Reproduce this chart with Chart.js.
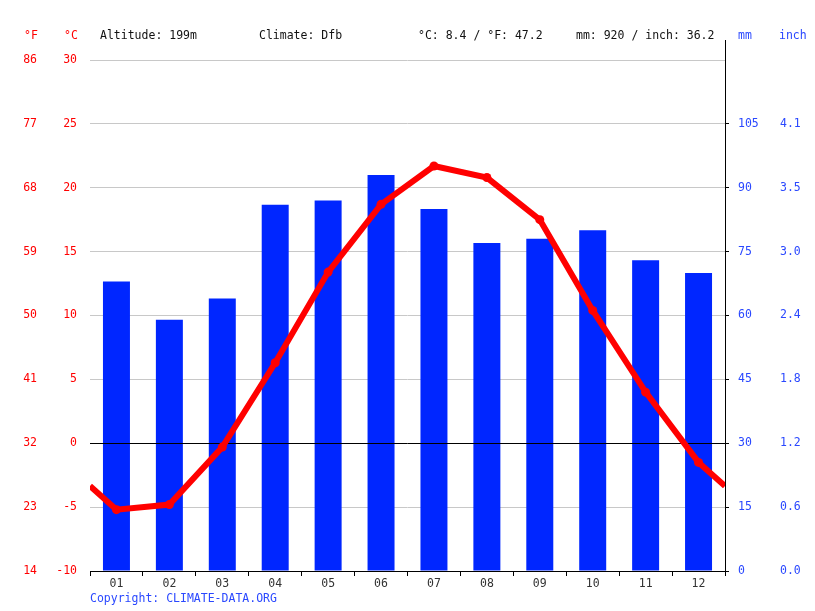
<!DOCTYPE html>
<html>
<head>
<meta charset="utf-8">
<script src="https://cdn.jsdelivr.net/npm/chart.js@4"></script>
<style>
  body { margin: 0; background: #fff; }
  canvas { display: block; }
</style>
</head>
<body>
<canvas id="climateChart" width="815" height="611"></canvas>
<script>
// data
const months = ['01', '02', '03', '04', '05', '06', '07', '08', '09', '10', '11', '12'];
const precipMm = [68, 59, 64, 86, 87, 93, 85, 77, 78, 80, 73, 70];
const tempC = [-5.2, -4.8, -0.3, 6.3, 13.4, 18.7, 21.7, 20.8, 17.5, 10.4, 4.0, -1.5];

// tick labels
const ticksC = [-10, -5, 0, 5, 10, 15, 20, 25, 30];
const ticksF = [14, 23, 32, 41, 50, 59, 68, 77, 86];
const ticksMm = [0, 15, 30, 45, 60, 75, 90, 105];
const ticksInch = ['0.0', '0.6', '1.2', '1.8', '2.4', '3.0', '3.5', '4.1'];

const FONT = 'DejaVu Sans Mono';
const RED = '#ff0000';
const BLUE = '#0026ff';
const LABEL_BLUE = '#2a48ff';

// line runs out to both edges, half way to the wrapped neighbour month
const edgeTemp = (tempC[0] + tempC[tempC.length - 1]) / 2;
const linePoints = [{ x: 0.5, y: edgeTemp }]
  .concat(tempC.map((t, i) => ({ x: i + 1, y: t })))
  .concat([{ x: months.length + 0.5, y: edgeTemp }]);
const pointSizes = linePoints.map((p, i) => (i === 0 || i === linePoints.length - 1) ? 0 : 4.5);

const setTicks = list => scale => { scale.ticks = list.map(v => ({ value: v })); };

// header, copyright, zero line and the tall right border
const extras = {
  id: 'extras',
  afterDatasetDraw(chart, args) {
    if (args.index !== 0) return;
    const { ctx, chartArea } = chart;
    const y0 = Math.round(chart.scales.y.getPixelForValue(0)) + 0.5;
    ctx.save();
    ctx.strokeStyle = '#000';
    ctx.lineWidth = 1;
    ctx.beginPath();
    ctx.moveTo(chartArea.left, y0);
    ctx.lineTo(chartArea.right, y0);
    ctx.stroke();
    ctx.restore();
  },
  afterDraw(chart) {
    const { ctx, chartArea } = chart;
    ctx.save();
    ctx.strokeStyle = '#000';
    ctx.lineWidth = 1;
    ctx.beginPath();
    ctx.moveTo(chartArea.right + 0.5, chartArea.top - 20);
    ctx.lineTo(chartArea.right + 0.5, chartArea.top);
    ctx.stroke();

    ctx.font = '11.5px "' + FONT + '"';
    ctx.textBaseline = 'middle';
    ctx.textAlign = 'left';
    const head = [
      ['°F', 24, RED], ['°C', 64, RED],
      ['Altitude: 199m', 100, '#111'],
      ['Climate: Dfb', 259, '#111'],
      ['°C: 8.4 / °F: 47.2', 418, '#111'],
      ['mm: 920 / inch: 36.2', 576, '#111'],
      ['mm', 738, LABEL_BLUE], ['inch', 779, LABEL_BLUE]
    ];
    head.forEach(([t, x, c]) => { ctx.fillStyle = c; ctx.fillText(t, x, 36); });
    ctx.fillStyle = LABEL_BLUE;
    ctx.fillText('Copyright: CLIMATE-DATA.ORG', 90, 599);
    ctx.restore();
  }
};

const tickFont = { family: FONT, size: 11.5 };

new Chart(document.getElementById('climateChart'), {
  type: 'bar',
  data: {
    labels: months,
    datasets: [
      {
        type: 'bar',
        data: precipMm,
        backgroundColor: BLUE,
        xAxisID: 'x',
        yAxisID: 'mm',
        grouped: false,
        categoryPercentage: 1,
        barPercentage: 0.51,
        order: 1
      },
      {
        type: 'line',
        data: linePoints,
        borderColor: RED,
        backgroundColor: RED,
        borderWidth: 6,
        pointRadius: pointSizes,
        pointBorderWidth: 0,
        tension: 0,
        xAxisID: 'x2',
        yAxisID: 'y',
        order: 0
      }
    ]
  },
  options: {
    responsive: false,
    animation: false,
    devicePixelRatio: 1,
    layout: { padding: { top: 60, left: 0, right: 0, bottom: 0 } },
    plugins: { legend: { display: false }, tooltip: { enabled: false } },
    scales: {
      x: {
        type: 'category',
        offset: true,
        grid: { offset: true, drawOnChartArea: false, color: '#000', tickLength: 5 },
        border: { color: '#000' },
        ticks: { color: '#333', font: tickFont, padding: 1, maxRotation: 0 },
        afterFit: s => { s.height = 40; }
      },
      x2: {
        type: 'linear',
        display: false,
        offset: false,
        min: 0.5,
        max: months.length + 0.5
      },
      y: {
        position: 'left',
        weight: 0,
        min: -10,
        max: 30,
        afterBuildTicks: setTicks(ticksC),
        grid: { color: '#c8c8c8', drawTicks: false },
        border: { display: false },
        ticks: { color: RED, font: tickFont, padding: 13 },
        afterFit: s => { s.width = 45; }
      },
      f: {
        position: 'left',
        weight: 1,
        min: 14,
        max: 86,
        afterBuildTicks: setTicks(ticksF),
        grid: { display: false },
        border: { display: false },
        ticks: { color: RED, font: tickFont, padding: 0 },
        afterFit: s => { s.width = 45; }
      },
      mm: {
        position: 'right',
        weight: 0,
        min: 0,
        max: 120,
        afterBuildTicks: setTicks(ticksMm),
        grid: { drawOnChartArea: false, color: '#000', tickLength: 4 },
        border: { color: '#000' },
        ticks: { color: LABEL_BLUE, font: tickFont, padding: 9 },
        afterFit: s => { s.width = 50; }
      },
      inch: {
        position: 'right',
        weight: 1,
        min: 0,
        max: 120,
        afterBuildTicks: setTicks(ticksMm),
        grid: { display: false },
        border: { display: false },
        ticks: {
          color: LABEL_BLUE,
          font: tickFont,
          padding: -3,
          callback: (v, i) => ticksInch[i]
        },
        afterFit: s => { s.width = 40; }
      }
    }
  },
  plugins: [extras]
});
</script>
</body>
</html>
